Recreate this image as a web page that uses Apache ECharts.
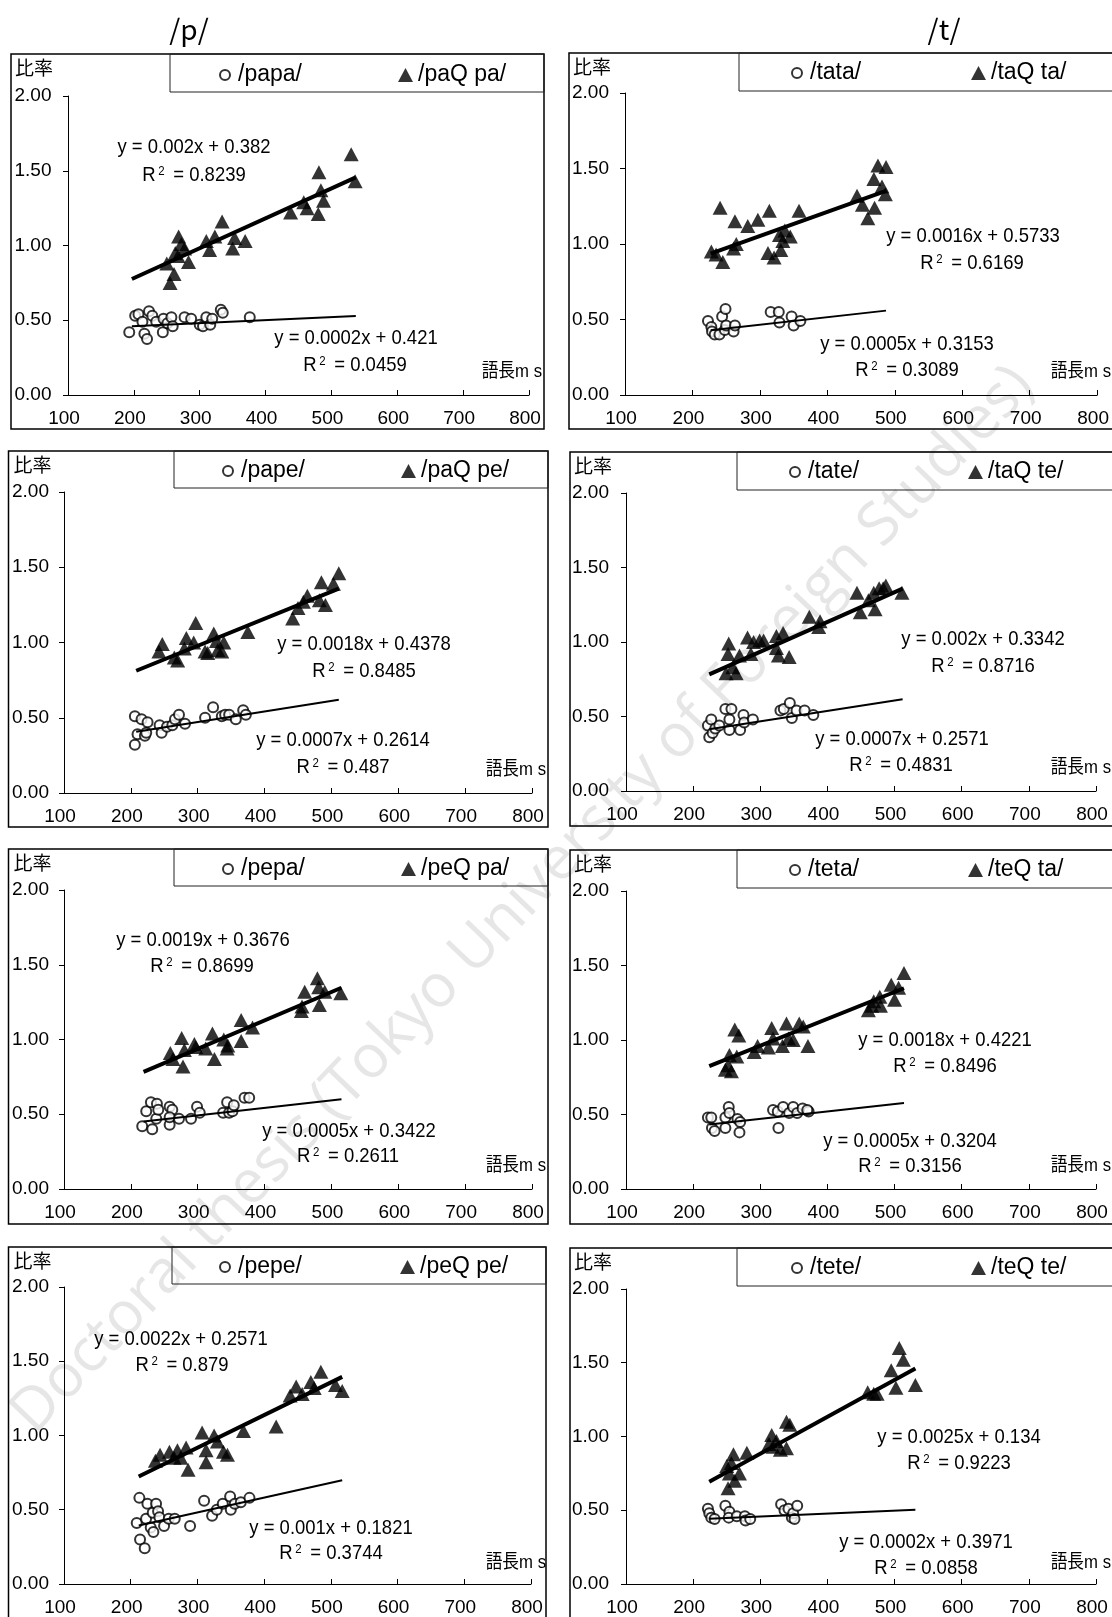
<!DOCTYPE html>
<html>
<head>
<meta charset="utf-8">
<script src="https://cdn.jsdelivr.net/npm/echarts@6/dist/echarts.min.js"></script>
<style>
html,body{margin:0;padding:0;background:#fff;}
#c{width:1112px;height:1617px;}
</style>
</head>
<body>
<div id="c"></div>
<script>
// ---------------- DATA ----------------
const columnTitles = ['/p/', '/t/'];
const circleNames = ['/papa/', '/tata/', '/pape/', '/tate/', '/pepa/', '/teta/', '/pepe/', '/tete/'];
const triangleNames = ['/paQ pa/', '/taQ ta/', '/paQ pe/', '/taQ te/', '/peQ pa/', '/teQ ta/', '/peQ pe/', '/teQ te/'];
const yAxisTitle = '比率';
const xAxisTitle = '語長m s';
const xRange = [100, 800, 100];
const yRange = [0, 2, 0.5];

// /papa/ and /paQ pa/
const papaX = [193,202,207,216,220,223,228,234,213,244,245,251,257,259,277,287,300,305,310,316,319,332,335,376];
const papaY = [0.42,0.53,0.54,0.41,0.375,0.56,0.53,0.49,0.49,0.42,0.51,0.48,0.52,0.46,0.52,0.51,0.47,0.46,0.52,0.47,0.51,0.57,0.55,0.52];
const paQpaX = [530,536,481,484,488,458,463,438,480,334,323,310,315,353,350,369,268,272,277,263,283,250,261,255,267];
const paQpaY = [1.61,1.43,1.49,1.37,1.30,1.29,1.25,1.22,1.21,1.16,1.06,1.03,0.97,1.05,0.98,1.03,1.06,1.01,0.98,0.95,0.89,0.88,0.81,0.75,0.93];
// /tata/ and /taQ ta/
const tataX = [223,228,229,233,240,244,249,248,250,261,263,316,328,329,347,350,360];
const tataY = [0.49,0.45,0.42,0.40,0.40,0.52,0.57,0.43,0.46,0.42,0.46,0.55,0.55,0.48,0.52,0.46,0.49];
const taQtaX = [228,235,245,241,263,282,297,314,265,261,312,321,329,334,331,345,337,358,444,452,460,470,469,475,487,481,486];
const taQtaY = [0.95,0.93,0.88,1.24,1.15,1.12,1.16,1.22,1.00,0.97,0.94,0.91,1.06,1.02,0.96,1.05,1.09,1.22,1.32,1.26,1.17,1.24,1.43,1.52,1.51,1.38,1.33];
// /pape/ and /paQ pe/
const papeX = [206,206,210,216,221,223,225,243,246,254,262,266,272,281,311,323,336,341,347,357,368,372];
const papeY = [0.51,0.32,0.39,0.49,0.38,0.40,0.47,0.45,0.40,0.44,0.45,0.49,0.52,0.46,0.50,0.57,0.51,0.52,0.52,0.49,0.55,0.52];
const paQpeX = [247,242,265,270,280,283,294,297,311,315,324,328,330,336,339,375,442,450,458,464,482,485,491,503,511];
const paQpeY = [0.99,0.94,0.90,0.88,0.96,1.03,1.00,1.13,0.94,0.93,1.06,1.01,0.95,0.94,1.00,1.07,1.16,1.23,1.27,1.31,1.28,1.40,1.25,1.39,1.46];
// /tate/ and /taQ te/
const tateX = [222,224,227,229,233,239,248,254,257,254,270,275,276,289,330,335,344,347,354,366,379];
const tateY = [0.44,0.36,0.48,0.39,0.42,0.44,0.55,0.48,0.55,0.41,0.41,0.51,0.46,0.48,0.54,0.55,0.59,0.49,0.54,0.54,0.51];
const taQteX = [253,252,249,264,259,269,281,286,290,299,305,324,324,327,334,343,373,389,387,444,449,461,469,471,477,483,487,511];
const taQteY = [0.99,0.92,0.79,0.79,0.83,0.91,1.03,0.92,1.00,1.01,1.01,0.96,1.04,0.91,1.06,0.90,1.17,1.14,1.10,1.33,1.20,1.28,1.33,1.22,1.36,1.36,1.38,1.33];
// /pepa/ and /peQ pa/
const pepaX = [217,223,230,232,238,239,241,258,258,262,258,272,290,299,303,338,344,347,352,354,370,377];
const pepaY = [0.42,0.52,0.58,0.40,0.47,0.57,0.53,0.43,0.55,0.53,0.48,0.47,0.47,0.55,0.51,0.51,0.58,0.51,0.52,0.56,0.61,0.61];
const peQpaX = [259,263,276,278,280,295,297,312,322,325,339,345,344,365,365,382,455,460,479,481,482,490,514,456];
const peQpaY = [0.91,0.87,1.01,0.82,0.93,0.97,0.95,0.94,1.04,0.87,1.00,0.96,0.94,1.13,0.99,1.08,1.19,1.32,1.41,1.35,1.23,1.32,1.31,1.22];
// /teta/ and /teQ ta/
const tetaX = [222,227,228,232,248,248,253,254,266,270,269,319,327,326,334,343,349,355,363,372,370];
const tetaY = [0.48,0.48,0.41,0.39,0.41,0.48,0.55,0.51,0.47,0.45,0.38,0.53,0.41,0.52,0.55,0.51,0.55,0.51,0.54,0.52,0.53];
const teQtaX = [248,252,254,257,262,268,265,291,296,312,317,319,333,339,342,349,358,364,371,461,466,478,479,495,500,506,514,469];
const teQtaY = [0.80,0.83,0.90,0.79,1.07,1.03,0.89,0.92,0.96,0.95,1.08,1.01,0.96,1.11,1.01,1.00,1.11,1.09,0.96,1.20,1.23,1.29,1.23,1.37,1.27,1.35,1.45,1.26];
// /pepe/ and /peQ pe/
const pepeX = [209,213,214,221,225,223,230,233,234,238,241,243,250,257,266,289,310,322,329,338,349,350,356,365,378];
const pepeY = [0.41,0.58,0.30,0.24,0.54,0.44,0.38,0.48,0.35,0.54,0.49,0.45,0.39,0.44,0.44,0.39,0.56,0.46,0.50,0.54,0.59,0.50,0.54,0.55,0.58];
const peQpeX = [237,244,258,265,270,275,283,286,307,313,313,325,330,339,345,369,418,439,448,457,470,475,485,507,517];
const peQpeY = [0.83,0.87,0.89,0.85,0.90,0.85,0.92,0.77,1.02,0.90,0.82,1.00,0.96,0.89,0.87,1.03,1.06,1.27,1.33,1.28,1.36,1.32,1.43,1.34,1.30];
// /tete/ and /teQ te/
const teteX = [222,224,227,232,248,254,253,265,277,278,285,331,336,342,347,349,355,351];
const teteY = [0.51,0.48,0.45,0.44,0.53,0.49,0.45,0.46,0.46,0.43,0.44,0.54,0.50,0.51,0.45,0.48,0.53,0.44];
const teQteX = [252,254,250,257,260,262,269,280,313,317,319,324,330,339,339,344,460,469,474,495,502,507,513,531];
const teQteY = [0.65,0.75,0.80,0.82,0.88,0.70,0.75,0.89,0.95,1.01,0.93,0.97,0.91,0.92,1.10,1.08,1.30,1.29,1.29,1.45,1.33,1.60,1.52,1.35];

// trendline coefficients (as printed) and fitted x-range
const circSlope = [0.0002, 0.0005, 0.0007, 0.0007, 0.0005, 0.0005, 0.001, 0.0002];
const circIntercept = [0.421, 0.3153, 0.2614, 0.2571, 0.3422, 0.3204, 0.1821, 0.3971];
const circR2 = ['0.0459', '0.3089', '0.487', '0.4831', '0.2611', '0.3156', '0.3744', '0.0858'];
const triSlope = [0.002, 0.0016, 0.0018, 0.002, 0.0019, 0.0018, 0.0022, 0.0025];
const triIntercept = [0.382, 0.5733, 0.4378, 0.3342, 0.3676, 0.4221, 0.2571, 0.134];
const triR2 = ['0.8239', '0.6169', '0.8485', '0.8716', '0.8699', '0.8496', '0.879', '0.9223'];
const fitMin = [197, 227, 208, 224, 219, 224, 212, 224];
const fitMax = [537, 487, 511, 512, 515, 514, 517, 531];

const circX = [papaX, tataX, papeX, tateX, pepaX, tetaX, pepeX, teteX];
const circY = [papaY, tataY, papeY, tateY, pepaY, tetaY, pepeY, teteY];
const triX = [paQpaX, taQtaX, paQpeX, taQteX, peQpaX, teQtaX, peQpeX, teQteX];
const triY = [paQpaY, taQtaY, paQpeY, taQteY, peQpaY, teQtaY, peQpeY, teQteY];

// ---------------- LAYOUT (pixels) ----------------
const FONT = "'Liberation Sans','Noto Sans CJK JP',sans-serif";
const layout = [
  {box:[11,54,533,375],  leg:[170,92],  grid:[68,96,461,299],  m:53.5, lg:[224,405,75],  eqT:[194,147,194,175],  eqC:[356,338,355,365],  ms:[542,372],  hr:[15,69.5]},
  {box:[569,53,560,376], leg:[739,91],  grid:[625,93,473,302], m:53,   lg:[796,978,73],  eqT:[973,236,972,263],  eqC:[907,344,907,370],  ms:[1111,372], hr:[573,69]},
  {box:[8.5,451,539.5,376], leg:[174,488], grid:[64,492,468,301], m:52, lg:[227,408,471], eqT:[364,644,364,671], eqC:[343,740,343,767], ms:[546,770], hr:[13.5,467]},
  {box:[570,452,560,374], leg:[737,490], grid:[626,493,470,298], m:54,  lg:[794,975,472], eqT:[983,639,983,666], eqC:[902,739,901,765], ms:[1111,768], hr:[574,468]},
  {box:[8.5,849,539.5,375], leg:[174,886], grid:[64,890,468,299], m:52, lg:[227,408,869], eqT:[203,940,202,966], eqC:[349,1131,348,1156], ms:[546,1166], hr:[13.5,865]},
  {box:[570,850,560,374], leg:[737,888], grid:[626,891,470,298], m:54,  lg:[794,975,870], eqT:[945,1040,945,1066], eqC:[910,1141,910,1166], ms:[1111,1166], hr:[574,866]},
  {box:[8.5,1247,537.5,400], leg:[172,1284], grid:[64,1287,467,298], m:52, lg:[224,407,1267], eqT:[181,1339,182,1365], eqC:[331,1528,331,1553], ms:[546,1563], hr:[13.5,1263]},
  {box:[570,1248,560,400], leg:[737,1286], grid:[626,1289,470,298], m:54, lg:[796,978,1268], eqT:[959,1437,959,1463], eqC:[926,1542,926,1568], ms:[1111,1563], hr:[574,1264]}
];
const EQ_SCALE = 0.88;
const EQ_SIZE = 21;

function fmt(v){ return v.toFixed(2); }
function eqText(a, b){ return 'y = ' + a + 'x + ' + b; }

const grid = [], xAxis = [], yAxis = [], series = [], legend = [], graphic = [];

graphic.push({
  type:'text', z:-10, x:523, y:900, rotation: 46.3*Math.PI/180,
  style:{text:'Doctoral thesis (Tokyo University of Foreign Studies)', fill:'#e6e6e6',
         font:"60px 'Open Sans', sans-serif", align:'center', verticalAlign:'middle',
         textAlign:'center', textVerticalAlign:'middle'}
});
graphic.push({type:'text', x:189, y:29, style:{text:columnTitles[0], fill:'#000', font:"28px 'Noto Sans CJK JP', sans-serif", align:'center', verticalAlign:'middle', textAlign:'center', textVerticalAlign:'middle'}});
graphic.push({type:'text', x:944, y:29, style:{text:columnTitles[1], fill:'#000', font:"28px 'Noto Sans CJK JP', sans-serif", align:'center', verticalAlign:'middle', textAlign:'center', textVerticalAlign:'middle'}});

function centerText(x, y, text){
  return {type:'text', x:x, y:y, scaleX:EQ_SCALE, style:{text:text, fill:'#000', font: EQ_SIZE + 'px ' + FONT,
    align:'center', verticalAlign:'middle', textAlign:'center', textVerticalAlign:'middle'}};
}
function r2Text(x, y, val){
  return {type:'text', x:x, y:y, scaleX:EQ_SCALE, style:{text:'{n|R}{s|2}{n| = ' + val + '}', fill:'#000',
    align:'center', verticalAlign:'middle', textAlign:'center', textVerticalAlign:'middle',
    rich:{ n:{fontSize:EQ_SIZE, fontFamily:FONT, fill:'#000', color:'#000'},
           s:{fontSize:13, fontFamily:FONT, fill:'#000', color:'#000', verticalAlign:'top', padding:[0,4,0,3]} }}};
}

for (let i = 0; i < 8; i++) {
  const L = layout[i];
  grid.push({left:L.grid[0], top:L.grid[1], width:L.grid[2], height:L.grid[3], containLabel:false});
  xAxis.push({
    gridIndex:i, type:'value', min:xRange[0], max:xRange[1], interval:xRange[2],
    axisLine:{show:true, onZero:false, lineStyle:{color:'#000', width:1}},
    axisTick:{show:true, inside:true, length:5, lineStyle:{color:'#000', width:1}},
    axisLabel:{show:true, color:'#000', fontSize:19, fontFamily:FONT, margin:14, padding:[0,8,0,0]},
    splitLine:{show:false}
  });
  yAxis.push({
    gridIndex:i, type:'value', min:yRange[0], max:yRange[1], interval:yRange[2],
    axisLine:{show:true, lineStyle:{color:'#000', width:1}},
    axisTick:{show:true, inside:false, length:5, lineStyle:{color:'#000', width:1}},
    axisLabel:{show:true, color:'#000', fontSize:19, fontFamily:FONT, align:'left', margin:L.m, formatter:fmt},
    splitLine:{show:false}
  });
  series.push({
    name:triangleNames[i], type:'scatter', xAxisIndex:i, yAxisIndex:i,
    symbol:'triangle', symbolSize:[15,14], itemStyle:{color:'#000'}, z:3,
    data: triX[i].map((x, k) => [x, triY[i][k]])
  });
  series.push({
    name:circleNames[i], type:'scatter', xAxisIndex:i, yAxisIndex:i,
    symbol:'circle', symbolSize:10, itemStyle:{color:'#fff', borderColor:'#000', borderWidth:2}, z:3,
    data: circX[i].map((x, k) => [x, circY[i][k]])
  });
  series.push({
    name:'fitT' + i, type:'line', xAxisIndex:i, yAxisIndex:i, showSymbol:false, silent:true, z:5,
    lineStyle:{color:'#000', width:4}, itemStyle:{color:'#000'},
    data:[[fitMin[i], triSlope[i]*fitMin[i] + triIntercept[i]], [fitMax[i], triSlope[i]*fitMax[i] + triIntercept[i]]]
  });
  series.push({
    name:'fitC' + i, type:'line', xAxisIndex:i, yAxisIndex:i, showSymbol:false, silent:true, z:5,
    lineStyle:{color:'#000', width:2}, itemStyle:{color:'#000'},
    data:[[fitMin[i], circSlope[i]*fitMin[i] + circIntercept[i]], [fitMax[i], circSlope[i]*fitMax[i] + circIntercept[i]]]
  });
  legend.push({
    data:[{name:circleNames[i], icon:'circle', itemStyle:{color:'#fff', borderColor:'#000', borderWidth:2}}],
    left:L.lg[0] - 5, top:L.lg[2] - 12, itemWidth:10, itemHeight:10, itemGap:0, padding:0,
    selectedMode:false, textStyle:{fontSize:23, fontFamily:FONT, color:'#000', lineHeight:24, padding:[0,0,0,3]}
  });
  legend.push({
    data:[{name:triangleNames[i], icon:'triangle', itemStyle:{color:'#000'}}],
    left:L.lg[1] - 7, top:L.lg[2] - 12, itemWidth:15, itemHeight:14, itemGap:0, padding:0,
    selectedMode:false, textStyle:{fontSize:23, fontFamily:FONT, color:'#000', lineHeight:24}
  });
  // panel frame & legend frame
  graphic.push({type:'rect', shape:{x:L.box[0], y:L.box[1], width:L.box[2], height:L.box[3]},
    style:{fill:'none', stroke:'#000', lineWidth:1.5}});
  graphic.push({type:'rect', shape:{x:L.leg[0], y:L.box[1], width:(L.box[0] + L.box[2]) - L.leg[0], height:L.leg[1] - L.box[1]},
    style:{fill:'none', stroke:'#222', lineWidth:1}});
  // texts
  graphic.push(centerText(L.eqT[0], L.eqT[1], eqText(triSlope[i], triIntercept[i])));
  graphic.push(r2Text(L.eqT[2], L.eqT[3], triR2[i]));
  graphic.push(centerText(L.eqC[0], L.eqC[1], eqText(circSlope[i], circIntercept[i])));
  graphic.push(r2Text(L.eqC[2], L.eqC[3], circR2[i]));
  graphic.push({type:'text', x:L.ms[0], y:L.ms[1], scaleX:0.88, style:{text:xAxisTitle, fill:'#000', font:'19px ' + FONT,
    align:'right', verticalAlign:'middle', textAlign:'right', textVerticalAlign:'middle'}});
  graphic.push({type:'text', x:L.hr[0], y:L.hr[1], style:{text:yAxisTitle, fill:'#000', font:'19px ' + FONT,
    align:'left', verticalAlign:'middle', textAlign:'left', textVerticalAlign:'middle'}});
}

const chart = echarts.init(document.getElementById('c'), null, {renderer:'canvas'});
chart.setOption({
  backgroundColor:'#fff',
  animation:false,
  grid:grid, xAxis:xAxis, yAxis:yAxis, series:series, legend:legend,
  graphic:{elements:graphic}
});
</script>
</body>
</html>
